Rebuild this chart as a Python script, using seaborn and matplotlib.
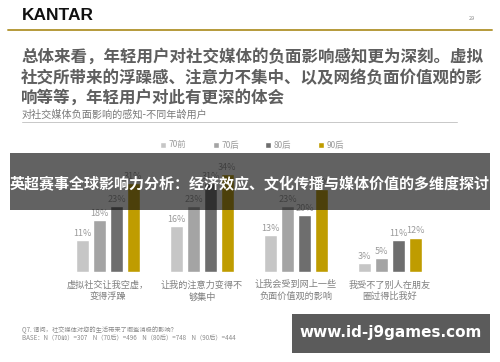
import matplotlib
matplotlib.use("Agg")
import matplotlib.pyplot as plt
import seaborn as sns
import pandas as pd
from matplotlib.patches import Rectangle

# ---- data ----
categories = ["虚拟社交让我空虚，\n变得浮躁", "让我的注意力变得不\n够集中", "让我会受到网上一些\n负面价值观的影响", "我受不了别人在朋友\n圈过得比我好"]
series = ["70前", "70后", "80后", "90后"]
v_70qian = [11, 16, 13, 3]
v_70hou = [18, 23, 23, 5]
v_80hou = [23, 31, 20, 11]
v_90hou = [31, 34, 29, 12]
label_vals = [[11, 16, 13, 3], [18, 23, 23, 5], [23, 31, 20, 11], [31, 34, 30, 12]]
colors = ["#c6c6c6", "#a4a4a4", "#6e6e6e", "#bf9c00"]

rows = []
for s, vals in zip(series, [v_70qian, v_70hou, v_80hou, v_90hou]):
    for c, v in zip(categories, vals):
        rows.append({"cat": c, "series": s, "val": v})
df = pd.DataFrame(rows)

sns.set_theme(style="white")
plt.rcParams['font.family'] = ['Noto Sans CJK SC', 'DejaVu Sans']

W, H = 500, 362
fig = plt.figure(figsize=(W / 100, H / 100), dpi=100)
fig.patch.set_facecolor("white")

def fx(x):
    return x / W

def fy(y):
    return 1 - y / H

# ---- bar axes ----
scale = 2.87
ymax = 40
left_px, right_px = 108 - 0.6 * 94, 108 + 3.6 * 94
base_px = 272
ax = fig.add_axes([fx(left_px), fy(base_px), (right_px - left_px) / W, ymax * scale / H])
sns.barplot(data=df, x="cat", y="val", hue="series", palette=colors, width=0.72, gap=0.22,
            ax=ax, legend=True, saturation=1)
ax.set_xlim(-0.6, 3.6)
ax.set_ylim(0, ymax)
for cont, labs in zip(ax.containers, label_vals):
    ax.bar_label(cont, labels=[f"{v}%" for v in labs], padding=1.5, fontsize=6.5, color="#9a9a9a")
ax.set_xlabel("")
ax.set_ylabel("")
ax.set_yticks([])
ax.tick_params(axis="x", length=0, pad=6, labelsize=6.6, labelcolor="#808080")
for t in ax.get_xticklabels():
    t.set_linespacing(1.35)
    t.set_va("top")
for s in ax.spines.values():
    s.set_visible(False)
ax.patch.set_alpha(0)

leg = ax.legend(loc="center", bbox_to_anchor=(fx(252), fy(145)), bbox_transform=fig.transFigure,
                ncol=4, frameon=False, fontsize=6, handlelength=0.7, handleheight=0.7,
                handletextpad=0.3, columnspacing=3.2, labelcolor="#9a9a9a")

# ---- header ----
fig.text(fx(22), fy(16), "KANTAR", fontsize=12.5, fontweight="bold", color="#111111",
         family=["Liberation Sans"], va="center", ha="left")
fig.text(fx(472), fy(18), "29", fontsize=4, color="#888888", va="center", ha="center")
fig.add_artist(plt.Line2D([fx(8), fx(492)], [fy(30), fy(30)], color="#b59a3a", lw=1.4))

title_lines = ["总体来看，年轻用户对社交媒体的负面影响感知更为深刻。虚拟",
               "社交所带来的浮躁感、注意力不集中、以及网络负面价值观的影",
               "响等等，年轻用户对此有更深的体会"]
for i, (line, yy) in enumerate(zip(title_lines, [57, 78.5, 97.5])):
    fig.text(fx(21), fy(yy), line, fontsize=11.9, fontweight="bold", color="#5e5e5e",
             va="center", ha="left")
fig.text(fx(22), fy(115), "对社交媒体负面影响的感知-不同年龄用户", fontsize=7.3, color="#7a7a7a",
         va="center", ha="left")
fig.add_artist(plt.Line2D([fx(22), fx(457)], [fy(122), fy(122)], color="#c8c8c8", lw=0.7))

# ---- footer ----
fig.text(fx(22), fy(330), "Q7. 请问，社交媒体对您的生活带来了哪些消极的影响？", fontsize=4.5,
         color="#8a8a8a", va="center", ha="left")
fig.text(fx(22), fy(338), "BASE：N（70前）=307    N（70后）=496    N（80后）=748    N（90后）=444",
         fontsize=4.5, color="#8a8a8a", va="center", ha="left")

# ---- overlays ----
fig.add_artist(Rectangle((fx(10), fy(210)), fx(480), (210 - 153) / H, transform=fig.transFigure,
                         facecolor="#111111", alpha=0.66, edgecolor="none", zorder=10))
fig.text(fx(250), fy(184), "英超赛事全球影响力分析：经济效应、文化传播与媒体价值的多维度探讨",
         fontsize=10.8, fontweight="bold", color="white", ha="center", va="center", zorder=11)

fig.add_artist(Rectangle((fx(292), fy(353)), fx(198), (353 - 314) / H, transform=fig.transFigure,
                         facecolor="#5b5b5b", edgecolor="none", zorder=10))
fig.text(fx(391), fy(333), "www.id-j9games.com", fontsize=11, fontweight="bold", color="white",
         family=["DejaVu Sans"], ha="center", va="center", zorder=11)

fig.savefig("out.png", dpi=100, facecolor="white")
